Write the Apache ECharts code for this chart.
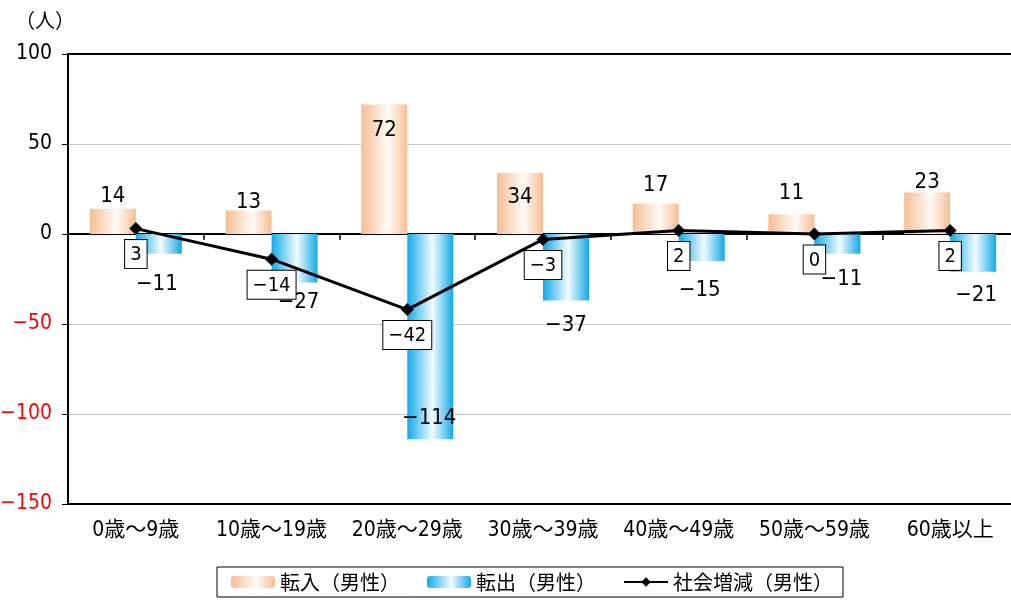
<!DOCTYPE html>
<html><head><meta charset="utf-8">
<script src="https://cdn.jsdelivr.net/npm/echarts@6/dist/echarts.min.js"></script>
<style>html,body{margin:0;padding:0;background:#fff}#c{width:1011px;height:601px}</style>
</head><body><div id="c"></div>
<script>
// ---- data ----
const categories = ['0歳～9歳','10歳～19歳','20歳～29歳','30歳～39歳','40歳～49歳','50歳～59歳','60歳以上'];
const tenyu = [14, 13, 72, 34, 17, 11, 23];          // 転入（男性）
const tenshutsu = [-11, -27, -114, -37, -15, -11, -21]; // 転出（男性）
const shakai = [3, -14, -42, -3, 2, 0, 2];           // 社会増減（男性）
const yMin = -150, yMax = 100, yStep = 50;

// ---- label placement tweaks (style only) ----
const inDy = [-2, 3, 37, 35, -7, -10, 1];
const outDy = [19, 9, -32, 14, 18, 14, 12];
const outDx = [-2, 4, -1, 0, -2, 4, 3];

const NUM_FONT = "'DejaVu Sans Condensed','Noto Sans CJK JP',sans-serif";
const JP_FONT = "'Noto Sans CJK JP',sans-serif";
const fmt = v => (v < 0 ? '\u2212' + (-v) : String(v));

const orangeGrad = new echarts.graphic.LinearGradient(0, 0, 1, 0, [
  {offset: 0, color: '#F5BE93'}, {offset: 0.58, color: '#FFFAF6'}, {offset: 1, color: '#F5BE93'}]);
const blueGrad = new echarts.graphic.LinearGradient(0, 0, 1, 0, [
  {offset: 0, color: '#12A9E6'}, {offset: 0.55, color: '#F2FBFF'}, {offset: 1, color: '#12A9E6'}]);

const chart = echarts.init(document.getElementById('c'), null, {renderer: 'canvas'});
chart.setOption({
  animation: false,
  backgroundColor: '#fff',
  textStyle: {fontFamily: JP_FONT},
  graphic: [{type: 'text', left: 15, top: 10, style: {text: '（人）', font: "20px 'Noto Sans CJK JP'", fill: '#000'}}],
  grid: {left: 68, top: 54, bottom: 97, width: 950, outerBoundsMode: 'none', containLabel: false},
  legend: {
    bottom: 4, left: 217,
    itemWidth: 44, itemHeight: 12, itemGap: 27,
    padding: [5, 10, 5, 14],
    borderColor: '#000', borderWidth: 1,
    textStyle: {fontSize: 20, color: '#000', fontFamily: JP_FONT},
    data: ['転入（男性）', '転出（男性）', '社会増減（男性）']
  },
  xAxis: [
    {type: 'category', data: categories, position: 'bottom',
     axisLine: {onZero: false, lineStyle: {color: '#000', width: 2}},
     axisTick: {show: false},
     axisLabel: {fontSize: 21, color: '#000', margin: 16, interval: 0, fontFamily: NUM_FONT}},
    {type: 'category', data: categories, position: 'bottom',
     axisLine: {onZero: true, lineStyle: {color: '#000', width: 2}},
     axisTick: {show: true, length: 6, lineStyle: {color: '#000', width: 1.5}},
     axisLabel: {show: false}},
    {type: 'category', data: categories, position: 'top',
     axisLine: {onZero: false, lineStyle: {color: '#000', width: 2}},
     axisTick: {show: false}, axisLabel: {show: false}}
  ],
  yAxis: {
    type: 'value', min: yMin, max: yMax, interval: yStep,
    axisLine: {show: true, lineStyle: {color: '#000', width: 2}},
    axisTick: {show: true, length: 6, lineStyle: {color: '#000', width: 1}},
    splitLine: {show: true, lineStyle: {color: '#C8C8C8', width: 1}},
    axisLabel: {
      fontSize: 21, margin: 16, fontFamily: NUM_FONT,
      formatter: v => fmt(Number(v)),
      color: v => (Number(v) < 0 ? '#FF0000' : '#000')
    }
  },
  series: [
    {name: '転入（男性）', type: 'bar', xAxisIndex: 0, barWidth: 46, barGap: '0%',
     itemStyle: {color: orangeGrad},
     data: tenyu.map((v, i) => ({value: v, label: {offset: [0, inDy[i]]}})),
     label: {show: true, position: 'outside', distance: 0, fontSize: 22, color: '#000',
             fontFamily: NUM_FONT, formatter: p => fmt(p.value)}},
    {name: '転出（男性）', type: 'bar', xAxisIndex: 0, barWidth: 46, barGap: '0%',
     itemStyle: {color: blueGrad},
     data: tenshutsu.map((v, i) => ({value: v, label: {offset: [outDx[i], outDy[i]]}})),
     label: {show: true, position: 'outside', distance: 0, fontSize: 22, color: '#000',
             fontFamily: NUM_FONT, formatter: p => fmt(p.value)}},
    {name: '社会増減（男性）', type: 'line', xAxisIndex: 0, z: 5,
     data: shakai, symbol: 'diamond', symbolSize: 13,
     lineStyle: {color: '#000', width: 3}, itemStyle: {color: '#000'},
     label: {show: true, position: 'bottom', distance: 5, fontSize: 20, color: '#000',
             fontFamily: NUM_FONT, backgroundColor: '#fff', borderColor: '#000', borderWidth: 1,
             padding: [5, 5, 3, 5], formatter: p => fmt(p.value)}}
  ]
});
</script></body></html>
